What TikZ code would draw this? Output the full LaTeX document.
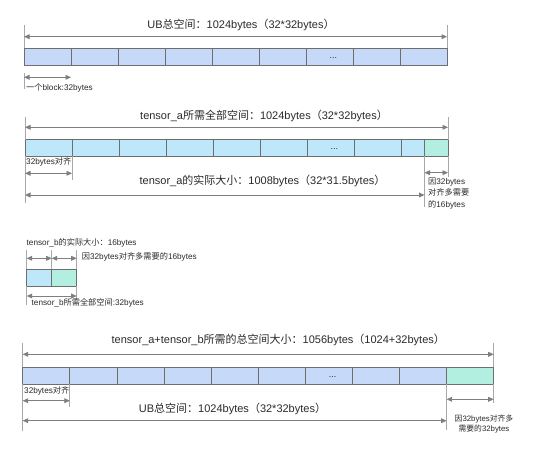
\documentclass[tikz,border=0pt]{standalone}
\usepackage{fontspec}
\setmainfont{Liberation Sans}
\newfontfamily\cjk{Noto Sans CJK SC}
\newcommand{\zh}[1]{{\cjk #1}}
\usetikzlibrary{arrows.meta,calc}
\definecolor{ln}{HTML}{7F7F7F}
\definecolor{extc}{HTML}{A8A8A8}
\definecolor{edge}{HTML}{6E6E6E}
\definecolor{ubf}{HTML}{C6D9F9}
\definecolor{taf}{HTML}{BEE7FA}
\definecolor{padf}{HTML}{B3EFE0}
\definecolor{txt}{HTML}{2A2A2A}
\tikzset{
  cell/.style={draw=edge,line width=0.8pt,minimum height=16.7pt,inner sep=0pt,outer sep=0pt,anchor=west,font=\fontsize{9}{10}\selectfont,text=txt},
  ubc/.style={cell,fill=ubf,minimum width=47pt},
  tac/.style={cell,fill=taf,minimum width=47pt},
  padc/.style={cell,fill=padf},
  dim/.style={{Triangle[length=5.5pt,width=4.8pt]}-{Triangle[length=5.5pt,width=4.8pt]},draw=ln,line width=0.8pt},
  extl/.style={draw=extc,line width=0.8pt},
  big/.style={font=\fontsize{11}{12}\selectfont,text=txt,inner sep=0pt},
  small/.style={font=\fontsize{8.2}{11.3}\selectfont,text=txt,inner sep=0pt,align=left}
}

\begin{document}
\begin{tikzpicture}[x=1pt,y=-1pt]
\useasboundingbox[fill=white] (0,0) rectangle (560,448);
% ===================== row 1: UB =====================
\foreach \i in {0,...,8}{\node[ubc] (u\i) at ({24+47*\i},56.7) {};}
\node[cell,draw=none] (udots) at ($(u6.center)+(0,1.5)$) {...};
\node[big] (ulab) at (241,25) {UB\zh{总空间：}1024bytes\zh{（}32*32bytes\zh{）}};
\draw[extl] (u0.north west) -- (u0.north west |- 0,25);
\draw[extl] (u8.north east) -- (u8.north east |- 0,25);
\draw[dim] (u0.west |- 0,36.7) -- (u8.east |- 0,36.7);
\draw[extl] (u0.west |- 0,73) -- (u0.west |- 0,89);
\draw[dim] (u0.west |- 0,77.3) -- (u0.east |- 0,77.3);
\node[small,anchor=west] (blab) at (26,88) {\zh{一个}block:32bytes};
% ===================== row 2: tensor_a =====================
\foreach \i in {0,...,7}{\node[tac] (a\i) at ({25+47*\i},148) {};}
\node[tac,minimum width=23.5pt] (a8) at (401,148) {};
\node[padc,minimum width=23.5pt] (ap) at (424.5,148) {};
\node[cell,draw=none] (adots) at ($(a6.center)+(0,1.5)$) {...};
\node[big] (alab) at (264,115.7) {tensor\_a\zh{所需全部空间：}1024bytes\zh{（}32*32bytes\zh{）}};
\draw[extl] (a0.north west) -- (a0.north west |- 0,116.7);
\draw[extl] (ap.north east) -- (ap.north east |- 0,116.7);
\draw[dim] (a0.west |- 0,127.3) -- (ap.east |- 0,127.3);
\node[small,anchor=west] (aalign) at (26,162.3) {32bytes\zh{对齐}};
\draw[extl] (a0.south west) -- (a0.south west |- 0,203.3);
\draw[extl] (a0.south east) -- (a0.south east |- 0,180);
\draw[dim] (a0.west |- 0,173.3) -- (a0.east |- 0,173.3);
\node[big] (areal) at (262.5,181) {tensor\_a\zh{的实际大小：}1008bytes\zh{（}32*31.5bytes\zh{）}};
\draw[extl] (ap.south west) -- (ap.south west |- 0,206.7);
\draw[dim] (a0.west |- 0,195) -- (ap.west |- 0,195);
\draw[extl] (ap.south east) -- (ap.south east |- 0,176.7);
\draw[dim] (ap.west |- 0,172.7) -- (ap.east |- 0,172.7);
\node[small,anchor=west] (apad) at (428,193.3) {\zh{因}32bytes\\\zh{对齐多需要}\\\zh{的}16bytes};
% ===================== row 3: tensor_b =====================
\node[tac,minimum width=25pt] (b0) at (26.7,277.7) {};
\node[padc,minimum width=25pt] (bp) at (51.7,277.7) {};
\node[small,anchor=west] (breal) at (26.5,243.3) {tensor\_b\zh{的实际大小：}16bytes};
\foreach \c in {b0.north west,b0.north east,bp.north east}{\draw[extl] (\c) -- (\c |- 0,250);}
\draw[dim] (b0.west |- 0,258.3) -- (b0.east |- 0,258.3);
\draw[dim] (bp.west |- 0,258.3) -- (bp.east |- 0,258.3);
\node[small,anchor=west] (bpad) at (81.7,257.3) {\zh{因}32bytes\zh{对齐多需要的}16bytes};
\draw[extl] (b0.south west) -- (b0.south west |- 0,305);
\draw[extl] (bp.south east) -- (bp.south east |- 0,300);
\draw[dim] (b0.west |- 0,296) -- (bp.east |- 0,296);
\node[small,anchor=west] (ball) at (31.5,303.3) {tensor\_b\zh{所需全部空间}:32bytes};
% ===================== row 4: tensor_a + tensor_b =====================
\foreach \i in {0,...,8}{\node[ubc,minimum width=47.1pt] (c\i) at ({22.7+47.1*\i},375.7) {};}
\node[padc,minimum width=47.1pt] (cp) at (446.6,375.7) {};
\node[cell,draw=none] (cdots) at ($(c6.center)+(0,1.5)$) {...};
\node[big] (clab) at (278.3,340) {tensor\_a+tensor\_b\zh{所需的总空间大小：}1056bytes\zh{（}1024+32bytes\zh{）}};
\draw[extl] (c0.north west) -- (c0.north west |- 0,343.3);
\draw[extl] (cp.north east) -- (cp.north east |- 0,343.3);
\draw[dim] (c0.west |- 0,354.3) -- (cp.east |- 0,354.3);
\node[small,anchor=west] (calign) at (24,391) {32bytes\zh{对齐}};
\draw[extl] (c0.south west) -- (c0.south west |- 0,430.7);
\draw[extl] (c0.south east) -- (c0.south east |- 0,407);
\draw[dim] (c0.west |- 0,400.7) -- (c0.east |- 0,400.7);
\node[big] (cub) at (232.5,409.3) {UB\zh{总空间：}1024bytes\zh{（}32*32bytes\zh{）}};
\draw[extl] (cp.south west) -- (cp.south west |- 0,430);
\draw[dim] (c0.west |- 0,420.7) -- (cp.west |- 0,420.7);
\draw[extl] (cp.south east) -- (cp.south east |- 0,403);
\draw[dim] (cp.west |- 0,399.3) -- (cp.east |- 0,399.3);
\node[small,align=center,font=\fontsize{7.8}{10}\selectfont] (cpad) at (484,424) {\zh{因}32bytes\zh{对齐多}\\\zh{需要的}32bytes};
\end{tikzpicture}
\end{document}
